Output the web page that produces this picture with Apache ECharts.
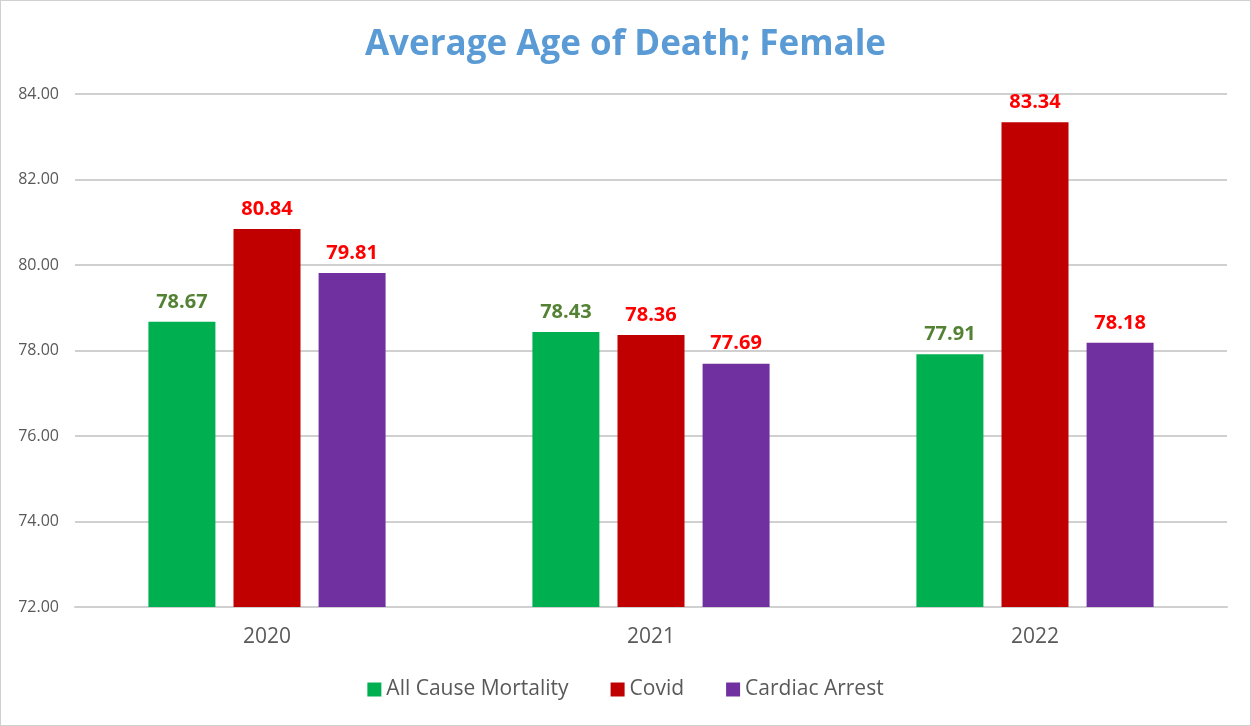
<!DOCTYPE html>
<html><head><meta charset="utf-8">
<script src="https://cdn.jsdelivr.net/npm/echarts@6/dist/echarts.min.js"></script>
<style>html,body{margin:0;padding:0;background:#fff}#c{width:1251px;height:726px;box-sizing:border-box;border:1px solid #d0d0d0}</style>
</head><body><div id="c"></div>
<script>
const categories = ['2020', '2021', '2022'];
const allCause = [78.67, 78.43, 77.91];
const covid = [80.84, 78.36, 83.34];
const cardiac = [79.81, 77.69, 78.18];
const seriesNames = ['All Cause Mortality', 'Covid', 'Cardiac Arrest'];
const yTicks = {min: 72, max: 84, interval: 2};

const chart = echarts.init(document.getElementById('c'));
const font = 'Open Sans, Liberation Sans, sans-serif';
function lbl(color){return {show:true, position:'top', distance:10, color:color, fontWeight:'bold', fontSize:20, fontFamily:font, formatter:p=>p.value.toFixed(2)};}
chart.setOption({
  animation:false,
  title:{text:'Average Age of Death; Female', left:'center', top:22, textStyle:{color:'#5B9BD5', fontSize:35, fontWeight:'bold', fontFamily:font}},
  grid:{left:74, right:23, top:93, bottom:118},
  legend:{bottom:20, itemWidth:14, itemHeight:14, itemGap:42, textStyle:{color:'#595959', fontSize:21, fontFamily:font}, data:seriesNames, icon:'rect'},
  xAxis:{type:'category', data:categories, axisTick:{show:false}, axisLine:{lineStyle:{color:'#d0d0d0', width:2}}, axisLabel:{color:'#595959', fontSize:21, fontFamily:font, margin:20}},
  yAxis:{type:'value', min:yTicks.min, max:yTicks.max, interval:yTicks.interval, axisLabel:{color:'#595959', fontSize:16, fontFamily:font, margin:16, formatter:v=>v.toFixed(2)}, splitLine:{lineStyle:{color:'#d0d0d0', width:2}}, axisLine:{show:false}, axisTick:{show:false}},
  series:[
    {name:seriesNames[0], type:'bar', data:allCause, barWidth:67, barGap:'27%', itemStyle:{color:'#00B050'}, label:lbl('#548235')},
    {name:seriesNames[1], type:'bar', data:covid, barWidth:67, barGap:'27%', itemStyle:{color:'#C00000'}, label:lbl('#FF0000')},
    {name:seriesNames[2], type:'bar', data:cardiac, barWidth:67, barGap:'27%', itemStyle:{color:'#7030A0'}, label:lbl('#FF0000')}
  ]
});
</script></body></html>
